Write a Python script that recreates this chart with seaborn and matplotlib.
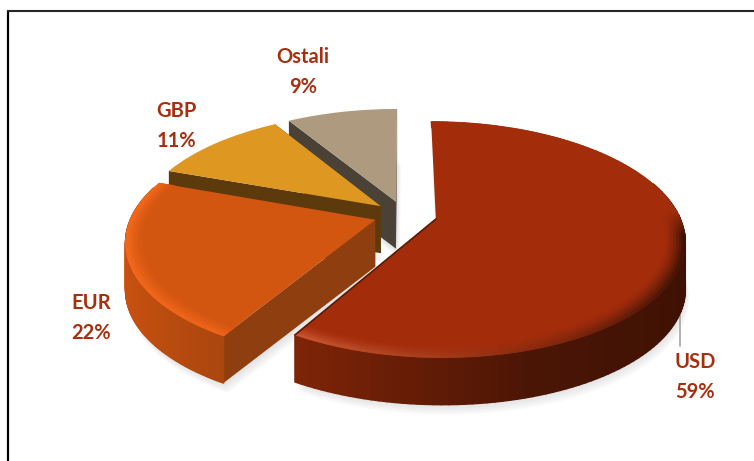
import numpy as np
import matplotlib
matplotlib.use('Agg')
import matplotlib.pyplot as plt
import seaborn as sns
from matplotlib.collections import PolyCollection
from matplotlib.colors import to_rgb
from matplotlib.transforms import Transform

# values
currencies = ['USD', 'EUR', 'GBP', 'Ostali']
shares = [58.5, 22.0, 10.8, 8.7]
labels_pct = ['59%', '22%', '11%', '9%']

# styling
explode = [0.135, 0.125, 0.125, 0.125]
face_colors = ['#A32C0B', '#D25510', '#DE9822', '#AE9A7E']
cut_colors = ['#4A1505', '#8F3F0F', '#5C3A0B', '#4A4236']
label_color = '#A5300F'
# side wall colour at cos(theta) = -1, -0.5, 0.3, 1
side_stops = [['#8A2808', '#7E2407', '#4A1505', '#3E1104'],
              ['#CC5210', '#AA460E', '#AA460E', '#AA460E'],
              ['#5C3A0B'] * 4,
              ['#4A4236'] * 4]
rim_stops = [['#CC5530', '#C9532F', '#8A2A0D', '#3E1104'],
             ['#F2681B', '#EC631A', '#EC631A', '#EC631A'],
             None, None]
rim_top = [0.05, 0.5, None, None]
label_pos = [(695, 377), (91, 318), (176, 126), (303, 72)]

# pie plane -> picture pixels, with a little perspective
cx, cy = 404, 215
a, b, k = 243, 113, 0.173
depth = 47


def project(x, y):
    w = 1 + k * y
    return cx + a * x / w, cy - b * y / w


class Perspective(Transform):
    input_dims = 2
    output_dims = 2
    is_separable = False

    def transform_non_affine(self, values):
        values = np.asarray(values)
        return np.column_stack(project(values[:, 0], values[:, 1]))


def stop_color(stops, cos_t):
    rgb = np.array([to_rgb(c) for c in stops])
    xs = [-1, -0.5, 0.3, 1]
    return np.column_stack([np.interp(cos_t, xs, rgb[:, i]) for i in range(3)])


def arc(wedge, frac=1.0, n=140):
    th = np.radians(np.linspace(wedge.theta1, wedge.theta2, n))
    x = wedge.center[0] + frac * wedge.r * np.cos(th)
    y = wedge.center[1] + frac * wedge.r * np.sin(th)
    return th, np.column_stack(project(x, y))


sns.set_theme(style='white')
plt.rcParams['font.family'] = ['Lato', 'DejaVu Sans']

fig = plt.figure(figsize=(7.54, 4.61), dpi=100)
ax = fig.add_axes([0, 0, 1, 1])

wedges, _ = ax.pie(shares, explode=explode, colors=face_colors, startangle=90,
                   counterclock=False, radius=1,
                   wedgeprops={'linewidth': 0})

ax.set_aspect('auto')
ax.set_xlim(0, 754)
ax.set_ylim(461, 0)
ax.axis('off')

persp = Perspective() + ax.transData

# soft shadow under the slices
for wedge in wedges:
    _, pts = arc(wedge)
    apex = np.column_stack(project(*wedge.center))
    for grow in [10, 8, 6, 4, 2]:
        ax.fill(*np.vstack([apex, pts]).T + np.array([[grow * 0.4], [depth + grow]]),
                color='#808080', alpha=0.045, lw=0, zorder=1)

# leader line of the USD label
ax.plot([679.5, 679.5], [298, 346], color='#A6A6A6', lw=1.2, zorder=1.5)

# back slices first, USD last
order = [3, 2, 1, 0]
for rank, i in enumerate(order):
    wedge = wedges[i]
    z = 2 + rank
    th, pts = arc(wedge)
    apex = np.array(project(*wedge.center))
    down = np.array([0, depth])

    # cut faces from the apex to the ends of the arc; the USD one at the tip lies under the top
    ends = [pts[0]] if i == 0 else [pts[0], pts[-1]]
    for end in ends:
        ax.fill(*np.array([apex, end, end + down, apex + down]).T,
                color=cut_colors[i], lw=0, zorder=z)

    # outer wall, coloured along the arc; the far side cannot be seen
    keep = [j for j in range(len(pts) - 1) if np.sin(th[j]) < 0.3]
    quads = [[pts[j], pts[j + 1], pts[j + 1] + down, pts[j] + down] for j in keep]
    if quads:
        cols = stop_color(side_stops[i], np.cos(th[keep]))
        ax.add_collection(PolyCollection(quads, facecolors=cols, edgecolors=cols, linewidths=1.2, zorder=z))

    # top face
    wedge.set_transform(persp)
    wedge.set_zorder(z + 0.1)

    # bevel round the front of the top face
    if rim_stops[i] is not None:
        face = np.array(to_rgb(face_colors[i]))
        fracs = np.linspace(0.925, 1.0, 8)
        for f0, f1 in zip(fracs[:-1], fracs[1:]):
            th0, p0 = arc(wedge, f0)
            _, p1 = arc(wedge, f1)
            quads = [[p0[j], p0[j + 1], p1[j + 1], p1[j]] for j in range(len(p0) - 1)]
            front = np.clip((rim_top[i] - np.sin(th0[:-1])) / 0.2, 0, 1)[:, None]
            fade = ((f1 - fracs[0]) / (fracs[-1] - fracs[0])) ** 1.5
            cols = face + (stop_color(rim_stops[i], np.cos(th0[:-1])) - face) * front * fade
            ax.add_collection(PolyCollection(quads, facecolors=cols, edgecolors=cols,
                                             linewidths=0.6, zorder=z + 0.2))

# dark edge along the vertical cut of USD
usd_apex = project(*wedges[0].center)
_, usd_pts = arc(wedges[0])
ax.plot([usd_apex[0], usd_pts[0][0]], [usd_apex[1], usd_pts[0][1]], color='#5A1A06', lw=1.2, zorder=7)

for name, pct, (x, y) in zip(currencies, labels_pct, label_pos):
    ax.text(x, y, f'{name}\n{pct}', ha='center', va='center', fontsize=14.5, fontweight='bold',
            color=label_color, linespacing=1.65, zorder=8)

# frame of the embedded picture, cut off at right and bottom
ax.plot([8, 8], [461, 11], color='black', lw=1.6, zorder=9, solid_capstyle='butt')
ax.plot([7, 754], [11.5, 11.5], color='#262626', lw=1.5, zorder=9, solid_capstyle='butt')

fig.savefig('out.png', dpi=100)
